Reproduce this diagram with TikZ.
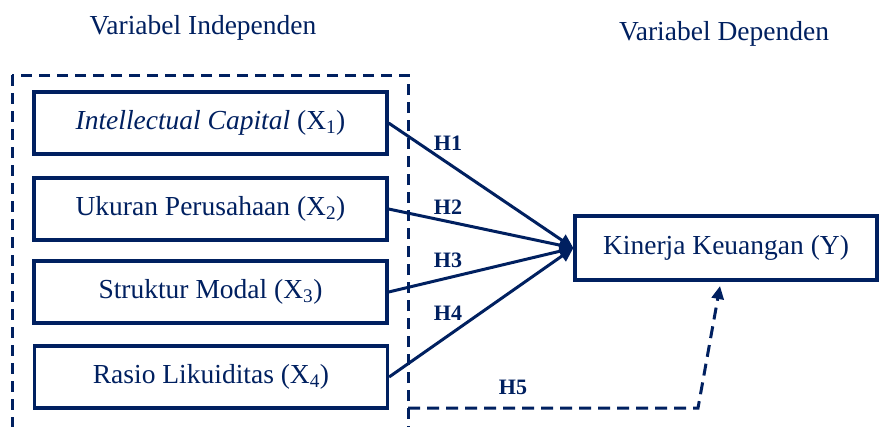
\documentclass[tikz,border=0pt]{standalone}
\usepackage{fontspec}
\setmainfont{Liberation Serif}
\usetikzlibrary{arrows.meta}
\definecolor{navy}{RGB}{0,32,96}
\tikzset{
  varbox/.style={draw=navy, line width=3.2pt, minimum width=353pt, minimum height=62pt, inner sep=0pt, text=navy, font=\fontsize{27.5}{31}\selectfont},
  ybox/.style={draw=navy, line width=3.2pt, minimum width=302pt, minimum height=64pt, inner sep=0pt, text=navy, font=\fontsize{27.5}{31}\selectfont},
  title/.style={text=navy, font=\fontsize{27.5}{31}\selectfont, inner sep=0pt},
  hlabel/.style={text=navy, font=\fontsize{22}{25}\selectfont\bfseries, inner sep=0pt},
  conn/.style={draw=navy, line width=3pt, -{Triangle[length=14pt,width=13pt]}},
  dashconn/.style={draw=navy, line width=3pt, dash pattern=on 12pt off 7pt, -{Triangle[length=13pt,width=12pt]}},
  group/.style={draw=navy, line width=3pt, dash pattern=on 11pt off 7pt}
}
\begin{document}
\begin{tikzpicture}[x=1pt,y=-1pt]
\clip (0,0) rectangle (880,426);
\fill[white] (0,0) rectangle (880,426);
\node[title] (t1) at (203,28) {Variabel Independen};
\node[title] (t2) at (724,34) {Variabel Dependen};
\draw[group] (12,75) rectangle (408,445);
\node[varbox] (x1) at (210.5,123) {\textit{Intellectual Capital} (X\textsubscript{1})};
\node[varbox] (x2) at (210.5,209) {Ukuran Perusahaan (X\textsubscript{2})};
\node[varbox] (x3) at (210.5,292) {Struktur Modal (X\textsubscript{3})};
\node[varbox] (x4) at (211,377) {Rasio Likuiditas (X\textsubscript{4})};
\node[ybox] (y) at (726,248) {Kinerja Keuangan (Y)};
\draw[conn] (x1.east) -- (y.west);
\draw[conn] (x2.east) -- (y.west);
\draw[conn] (x3.east) -- (y.west);
\draw[conn] (x4.east) -- (y.west);
\node[hlabel] (h1) at (448,143) {H1};
\node[hlabel] (h2) at (448,207) {H2};
\node[hlabel] (h3) at (448,260) {H3};
\node[hlabel] (h4) at (448,313) {H4};
\node[hlabel] (h5) at (513,387) {H5};
\coordinate (h5s) at (408,408);
\coordinate (h5m) at (698,408);
\coordinate (h5e) at (720,286);
\draw[dashconn] (h5s) -- (h5m) -- (h5e);
\end{tikzpicture}
\end{document}
